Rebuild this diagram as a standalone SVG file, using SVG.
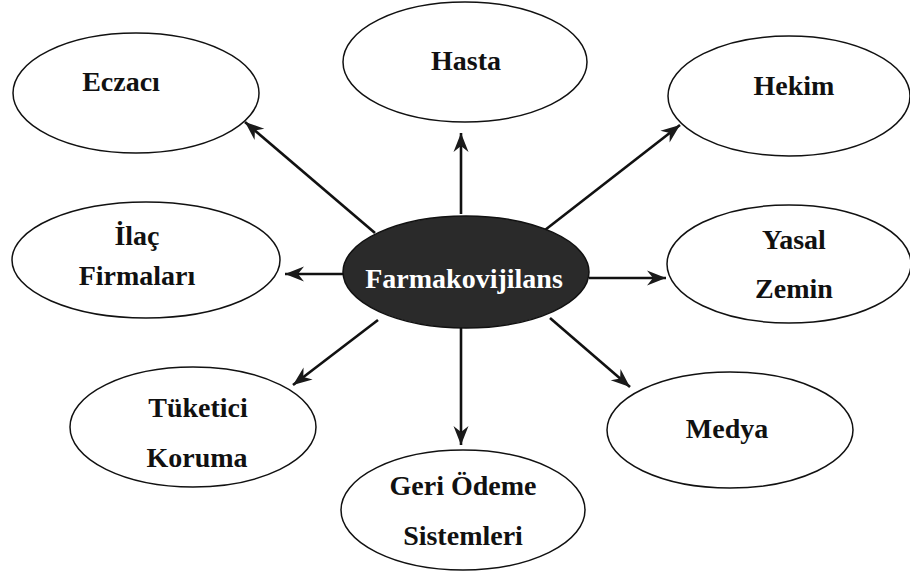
<svg xmlns="http://www.w3.org/2000/svg" width="910" height="574" viewBox="0 0 910 574">
<defs>
<style>
.n ellipse{fill:#fff;stroke:#111;stroke-width:1.5}
text{font-family:"Liberation Serif","Times New Roman",serif;font-weight:bold;font-size:28px;fill:#111;text-anchor:middle}
.c line{stroke:#111;stroke-width:2.6;marker-end:url(#ah)}
</style>
<marker id="ah" markerUnits="userSpaceOnUse" markerWidth="24" markerHeight="20" viewBox="-20 -10 22 20" refX="0" refY="0" orient="auto">
<path d="M0,0 L-19,-7.5 L-13,0 L-19,7.5 Z" fill="#1a1a1a"/>
</marker>
</defs>
<rect width="910" height="574" fill="#fff"/>
<g class="c" id="connectors">
<line x1="461" y1="214" x2="461" y2="133"/>
<line x1="375" y1="233" x2="245" y2="122"/>
<line x1="545" y1="230" x2="680" y2="125"/>
<line x1="343" y1="274" x2="285" y2="274"/>
<line x1="589" y1="278" x2="666" y2="278"/>
<line x1="378" y1="320" x2="293" y2="385"/>
<line x1="550" y1="318" x2="630" y2="387"/>
<line x1="461" y1="328" x2="461" y2="445"/>
</g>
<g class="n" id="eczaci"><ellipse cx="136" cy="93" rx="123" ry="60"/><text x="121" y="91">Eczacı</text></g>
<g class="n" id="hasta"><ellipse cx="465" cy="62" rx="122" ry="60"/><text x="466" y="70">Hasta</text></g>
<g class="n" id="hekim"><ellipse cx="789" cy="96" rx="121" ry="60"/><text x="794" y="95">Hekim</text></g>
<g class="n" id="ilac"><ellipse cx="146" cy="260" rx="134" ry="58"/><text x="137" y="245">İlaç</text><text x="137" y="285">Firmaları</text></g>
<g id="farmakovijilans"><ellipse cx="466" cy="272" rx="123" ry="56" fill="#2a2a2a" stroke="#111" stroke-width="1.5"/><text x="464" y="288" style="fill:#fff">Farmakovijilans</text></g>
<g class="n" id="yasal"><ellipse cx="789" cy="264" rx="122" ry="59"/><text x="794" y="249">Yasal</text><text x="794" y="298">Zemin</text></g>
<g class="n" id="tuketici"><ellipse cx="193" cy="427" rx="123" ry="60"/><text x="198" y="417">Tüketici</text><text x="197" y="467">Koruma</text></g>
<g class="n" id="geri"><ellipse cx="463" cy="510" rx="122" ry="60"/><text x="463" y="495">Geri Ödeme</text><text x="463" y="545">Sistemleri</text></g>
<g class="n" id="medya"><ellipse cx="730" cy="430" rx="123" ry="58"/><text x="727" y="438">Medya</text></g>
</svg>
